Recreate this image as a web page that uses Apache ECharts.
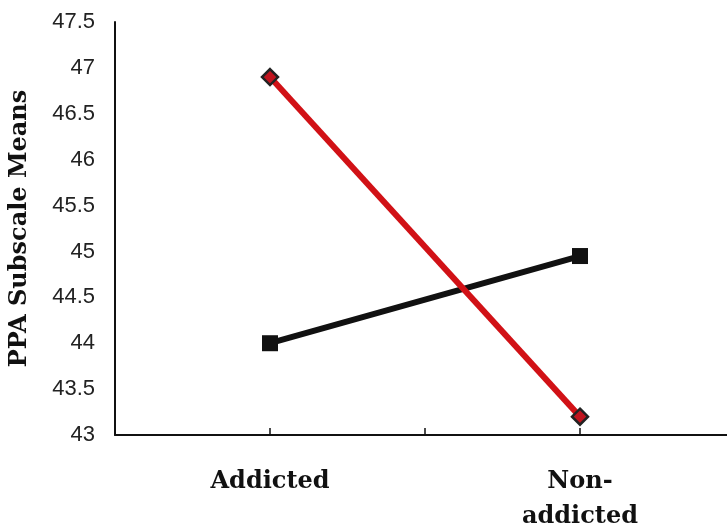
<!DOCTYPE html>
<html>
<head>
<meta charset="utf-8">
<script src="https://cdn.jsdelivr.net/npm/echarts@6/dist/echarts.min.js"></script>
<style>
  html, body { margin: 0; padding: 0; background: #fff; }
  #chart { width: 727px; height: 526px; }
</style>
</head>
<body>
<div id="chart"></div>
<script>
// x slots: blank slots keep the tick spacing of the original axis
const categories = ['', 'Addicted', '', 'Non-\naddicted', ''];
const redSeries = [null, 46.9, null, 43.2, null];
const blackSeries = [null, 44.0, null, 44.95, null];
const yTicks = [43, 43.5, 44, 44.5, 45, 45.5, 46, 46.5, 47, 47.5];

const chart = echarts.init(document.getElementById('chart'), null, { renderer: 'canvas' });

chart.setOption({
  animation: false,
  grid: { left: 115, top: 22, width: 620, bottom: 91, outerBoundsMode: 'none' },
  xAxis: {
    type: 'category',
    data: categories,
    boundaryGap: false,
    axisLine: { lineStyle: { color: '#111', width: 2 } },
    axisTick: {
      inside: true,
      length: 7,
      lineStyle: { color: '#111', width: 1.5 },
      interval: (i) => i > 0 && i < 4
    },
    axisLabel: {
      interval: 0,
      margin: 29,
      color: '#111',
      fontFamily: 'DejaVu Serif',
      fontWeight: 'bold',
      fontSize: 24,
      lineHeight: 35
    },
    splitLine: { show: false }
  },
  yAxis: {
    type: 'value',
    min: yTicks[0],
    max: yTicks[yTicks.length - 1],
    interval: 0.5,
    name: 'PPA Subscale Means',
    nameLocation: 'middle',
    nameGap: 83,
    nameTextStyle: {
      color: '#111',
      fontFamily: 'DejaVu Serif',
      fontWeight: 'bold',
      fontSize: 24
    },
    axisLine: { show: true, lineStyle: { color: '#111', width: 2 } },
    axisTick: { show: false },
    splitLine: { show: false },
    axisLabel: {
      margin: 20,
      color: '#222',
      fontFamily: 'Liberation Sans',
      fontSize: 22,
      formatter: (v) => String(v)
    }
  },
  series: [
    {
      type: 'line',
      data: blackSeries,
      connectNulls: true,
      symbol: 'rect',
      symbolSize: 16,
      lineStyle: { color: '#111', width: 6 },
      itemStyle: { color: '#111' }
    },
    {
      type: 'line',
      data: redSeries,
      connectNulls: true,
      symbol: 'diamond',
      symbolSize: 16,
      lineStyle: { color: '#d11116', width: 6 },
      itemStyle: { color: '#c0141e', borderColor: '#222', borderWidth: 2.5 }
    }
  ]
});
</script>
</body>
</html>
